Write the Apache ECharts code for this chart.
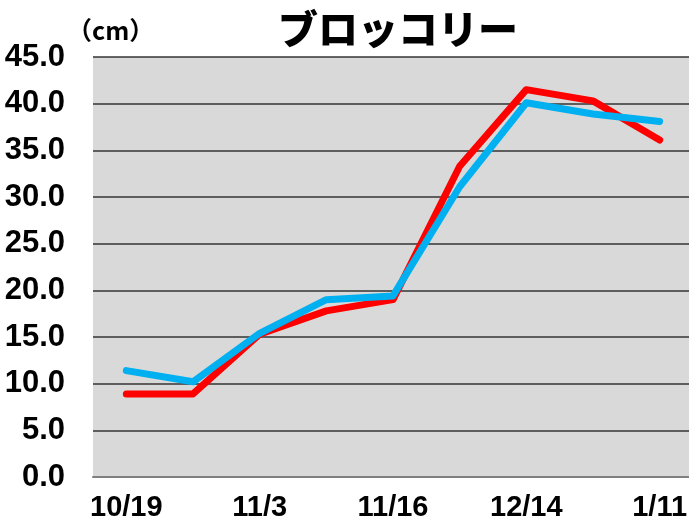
<!DOCTYPE html>
<html>
<head>
<meta charset="utf-8">
<script src="https://cdn.jsdelivr.net/npm/echarts@6/dist/echarts.min.js"></script>
<style>
html,body{margin:0;padding:0;background:#fff;}
#c{width:689px;height:523px;}
</style>
</head>
<body>
<div id="c"></div>
<script>
const titleText = 'ブロッコリー';
const unitText = '（cm）';
const categories = ['10/19', '10/26', '11/3', '11/9', '11/16', '11/30', '12/14', '12/28', '1/11'];
const redValues = [8.9, 8.9, 15.3, 17.8, 19.0, 33.3, 41.5, 40.3, 36.1];
const blueValues = [11.4, 10.2, 15.4, 19.0, 19.4, 31.1, 40.1, 38.9, 38.1];
const yMin = 0, yMax = 45, yStep = 5;

const chart = echarts.init(document.getElementById('c'));
const numFont = '"Liberation Sans", Arial, sans-serif';
chart.setOption({
  backgroundColor: '#ffffff',
  animation: false,
  title: [{
    text: titleText,
    left: 393, top: 4, textAlign: 'center',
    textStyle: { fontFamily: '"Noto Sans CJK JP"', fontWeight: 900, fontSize: 40, color: '#000' }
  }, {
    text: unitText,
    left: 62, top: 13,
    textStyle: { fontFamily: '"Noto Sans CJK JP"', fontWeight: 'bold', fontSize: 25, color: '#000' }
  }],
  grid: { left: 93, top: 57, width: 600, height: 420, containLabel: false, outerBoundsMode: 'none',
          backgroundColor: '#d9d9d9', show: true, borderWidth: 0 },
  xAxis: {
    type: 'category',
    data: categories,
    boundaryGap: true,
    axisLine: { show: true, lineStyle: { color: '#7f7f7f', width: 2 } },
    axisTick: { show: false },
    axisLabel: { interval: 1, margin: 16, fontFamily: numFont, fontWeight: 'bold', fontSize: 29, color: '#000' }
  },
  yAxis: {
    type: 'value',
    min: yMin, max: yMax, interval: yStep,
    axisLine: { show: false },
    axisTick: { show: false },
    splitLine: { show: true, lineStyle: { color: '#333', width: 1.5 } },
    axisLabel: { margin: 28, fontFamily: numFont, fontWeight: 'bold', fontSize: 31, color: '#000',
                 formatter: v => v.toFixed(1) }
  },
  series: [{
    type: 'line', data: redValues, symbol: 'none',
    lineStyle: { color: '#ff0000', width: 7, cap: 'round', join: 'round' }
  }, {
    type: 'line', data: blueValues, symbol: 'none',
    lineStyle: { color: '#00b0f0', width: 7, cap: 'round', join: 'round' }
  }]
});
</script>
</body>
</html>
